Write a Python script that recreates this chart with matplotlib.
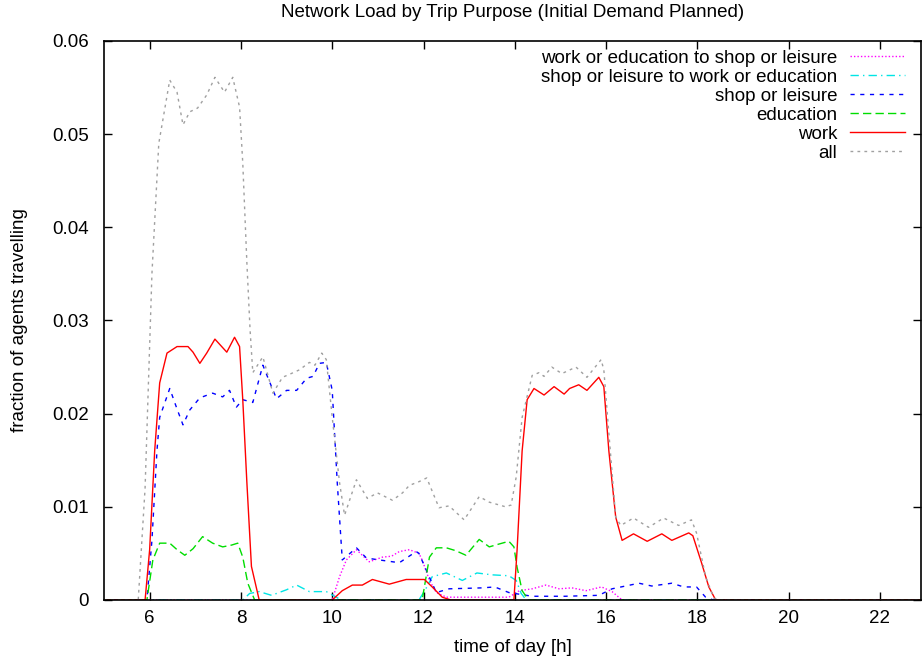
import numpy as np
import matplotlib.pyplot as plt

plt.rcParams['font.family'] = ['Liberation Sans', 'DejaVu Sans']

# time of day [h] and fraction of agents travelling
all_t = [5.0, 5.75, 5.9, 6.05, 6.2, 6.44, 6.6, 6.73, 6.88, 7.05, 7.25, 7.43, 7.64, 7.82, 7.97,
         8.04, 8.13, 8.2, 8.26, 8.48, 8.7, 8.91, 9.1, 9.28, 9.5, 9.62, 9.77, 9.87, 10.0, 10.16,
         10.27, 10.53, 10.77, 10.99, 11.32, 11.54, 11.69, 11.9, 12.07, 12.34, 12.56, 12.89,
         13.22, 13.44, 13.8, 13.92, 14.03, 14.16, 14.38, 14.53, 14.64, 14.81, 15.03, 15.34,
         15.58, 15.89, 15.95, 16.06, 16.21, 16.32, 16.6, 16.93, 17.26, 17.59, 17.87, 17.98,
         18.18, 18.36, 18.5, 22.9]
all_v = [0, 0, 0.012, 0.035, 0.049, 0.0558, 0.0545, 0.051, 0.0524, 0.0528, 0.0542, 0.0561,
         0.0545, 0.0561, 0.0529, 0.0469, 0.0362, 0.029, 0.0244, 0.0261, 0.0222, 0.0239, 0.0243,
         0.0247, 0.0255, 0.0252, 0.0265, 0.0258, 0.0196, 0.0126, 0.0091, 0.0129, 0.0109, 0.0115,
         0.0107, 0.0115, 0.0123, 0.0127, 0.0131, 0.0099, 0.0101, 0.0086, 0.0111, 0.0105, 0.0100,
         0.0102, 0.0132, 0.0196, 0.0241, 0.0244, 0.0240, 0.0250, 0.0243, 0.0250, 0.0239, 0.0258,
         0.0247, 0.0179, 0.0089, 0.0080, 0.0088, 0.0078, 0.0088, 0.0080, 0.0086, 0.0072, 0.0025,
         0.0002, 0, 0]

work_t = [5.0, 5.9, 6.0, 6.11, 6.22, 6.38, 6.6, 6.84, 6.95, 7.1, 7.25, 7.43, 7.69, 7.86, 7.97,
          8.04, 8.13, 8.23, 8.4, 10.0, 10.22, 10.44, 10.66, 10.88, 11.25, 11.62, 12.02, 12.19,
          12.41, 12.6, 13.98, 14.05, 14.16, 14.27, 14.42, 14.64, 14.86, 15.08, 15.2, 15.4, 15.58,
          15.84, 15.95, 16.06, 16.21, 16.35, 16.6, 16.9, 17.22, 17.44, 17.81, 17.9, 18.09, 18.25,
          18.4, 22.9]
work_v = [0, 0, 0.0054, 0.016, 0.0233, 0.0265, 0.0272, 0.0272, 0.0266, 0.0254, 0.0265, 0.0280,
          0.0266, 0.0282, 0.0272, 0.0215, 0.0126, 0.0036, 0, 0, 0.0010, 0.0016, 0.0016, 0.0022,
          0.0017, 0.0022, 0.0022, 0.0014, 0.0003, 0, 0, 0.0054, 0.016, 0.0215, 0.0227, 0.0220,
          0.0229, 0.0221, 0.0227, 0.0231, 0.0225, 0.0239, 0.0229, 0.016, 0.0089, 0.0064, 0.0071,
          0.0063, 0.0071, 0.0064, 0.0072, 0.0069, 0.0040, 0.0014, 0, 0]

edu_t = [5.0, 5.94, 6.07, 6.22, 6.44, 6.6, 6.77, 6.95, 7.16, 7.38, 7.6, 7.8, 7.93, 8.04, 8.15,
         8.3, 11.97, 12.13, 12.28, 12.5, 12.7, 12.93, 13.22, 13.44, 13.65, 13.87, 13.98, 14.05,
         14.16, 14.3, 22.9]
edu_v = [0, 0, 0.0043, 0.0061, 0.0061, 0.0054, 0.0048, 0.0055, 0.0068, 0.0061, 0.0057, 0.0059,
         0.0061, 0.0046, 0.0018, 0, 0, 0.0046, 0.0056, 0.0056, 0.0053, 0.0048, 0.0065, 0.0057,
         0.0060, 0.0063, 0.0057, 0.0035, 0.0010, 0, 0]

shop_t = [5.0, 5.94, 6.05, 6.16, 6.22, 6.44, 6.6, 6.73, 6.88, 7.1, 7.38, 7.6, 7.75, 7.9, 8.04,
          8.26, 8.48, 8.62, 8.78, 9.0, 9.22, 9.44, 9.58, 9.72, 9.87, 10.0, 10.11, 10.22, 10.53,
          10.75, 11.03, 11.47, 11.84, 11.9, 12.06, 12.28, 12.56, 13.28, 13.56, 13.87, 14.38,
          15.1, 15.84, 16.13, 16.72, 17.0, 17.44, 17.7, 17.98, 18.18, 18.35, 22.9]
shop_v = [0, 0, 0.0064, 0.016, 0.0196, 0.0227, 0.0205, 0.0188, 0.0204, 0.0217, 0.0222, 0.0218,
          0.0225, 0.0207, 0.0215, 0.0212, 0.0252, 0.0235, 0.0216, 0.0225, 0.0225, 0.0238, 0.0240,
          0.0254, 0.0255, 0.0225, 0.0126, 0.0043, 0.0056, 0.0045, 0.0043, 0.0040, 0.0052, 0.0050,
          0.0032, 0.0008, 0.0012, 0.0013, 0.0014, 0.0008, 0.0004, 0.0004, 0.0005, 0.0012, 0.0018,
          0.0015, 0.0018, 0.0014, 0.0014, 0.0003, 0, 0]

s2w_t = [5.0, 8.04, 8.19, 8.4, 8.67, 9.0, 9.22, 9.5, 9.87, 10.09, 10.2, 11.9, 12.05, 12.19,
         12.5, 12.85, 13.17, 13.5, 13.87, 14.03, 14.14, 14.25, 22.9]
s2w_v = [0, 0, 0.0007, 0.0009, 0.0005, 0.0011, 0.0016, 0.0009, 0.0009, 0.0003, 0, 0, 0.0012,
         0.0025, 0.0029, 0.0021, 0.0029, 0.0027, 0.0026, 0.0021, 0.0007, 0, 0]

w2s_t = [5.0, 10.0, 10.16, 10.31, 10.53, 10.81, 11.1, 11.3, 11.47, 11.69, 11.9, 11.97, 12.13,
         12.28, 12.5, 13.2, 13.87, 14.1, 14.38, 14.68, 14.97, 15.25, 15.56, 15.9, 16.13, 16.35,
         22.9]
w2s_v = [0, 0, 0.0025, 0.0043, 0.0054, 0.0041, 0.0046, 0.0047, 0.0052, 0.0054, 0.0050, 0.0043,
         0.0021, 0.0008, 0.0003, 0.0003, 0.0003, 0.0010, 0.0012, 0.0016, 0.0012, 0.0013, 0.0010,
         0.0014, 0.0009, 0, 0]

xticks = [6, 8, 10, 12, 14, 16, 18, 20, 22]
yticks = [0, 0.01, 0.02, 0.03, 0.04, 0.05, 0.06]
ylabels = ['0', '0.01', '0.02', '0.03', '0.04', '0.05', '0.06']

fs = 13.5
fig = plt.figure(figsize=(9.22, 6.61), dpi=100)
ax = fig.add_axes([0.1128, 0.0923, 0.8862, 0.8457])

ax.plot(w2s_t, w2s_v, color='#ff00ff', lw=1, ls=(0, (1, 1.5)),
        label='work or education to shop or leisure')
ax.plot(s2w_t, s2w_v, color='#00e5e5', lw=1, ls=(0, (6, 3, 1, 3)),
        label='shop or leisure to work or education')
ax.plot(shop_t, shop_v, color='#0000ff', lw=1, ls=(0, (3, 4)), label='shop or leisure')
ax.plot(edu_t, edu_v, color='#00dd00', lw=1, ls=(0, (6, 3)), label='education')
ax.plot(work_t, work_v, color='#ff0000', lw=1, label='work')
ax.plot(all_t, all_v, color='#a0a0a0', lw=1, ls=(0, (2, 3)), label='all')

ax.set_xlim(5, 22.9)
ax.set_ylim(0, 0.06)
ax.set_xticks(xticks)
ax.set_yticks(yticks)
ax.set_yticklabels(ylabels)
ax.tick_params(direction='in', top=True, right=True, length=6, width=1, labelsize=fs)
ax.tick_params(axis='y', pad=11)
ax.tick_params(axis='x', pad=7)
for s in ax.spines.values():
    s.set_linewidth(1.2)

ax.set_title('Network Load by Trip Purpose (Initial Demand Planned)', fontsize=fs, pad=17)
ax.set_xlabel('time of day [h]', fontsize=fs, labelpad=9)
ax.set_ylabel('fraction of agents travelling', fontsize=fs, labelpad=17)

ax.legend(loc='upper right', bbox_to_anchor=(0.988, 0.996), frameon=False,
          markerfirst=False, fontsize=fs, handlelength=2.9, labelspacing=0.1,
          borderaxespad=0.25, handletextpad=0.7, borderpad=0.1)

fig.savefig('out.png', dpi=100)
